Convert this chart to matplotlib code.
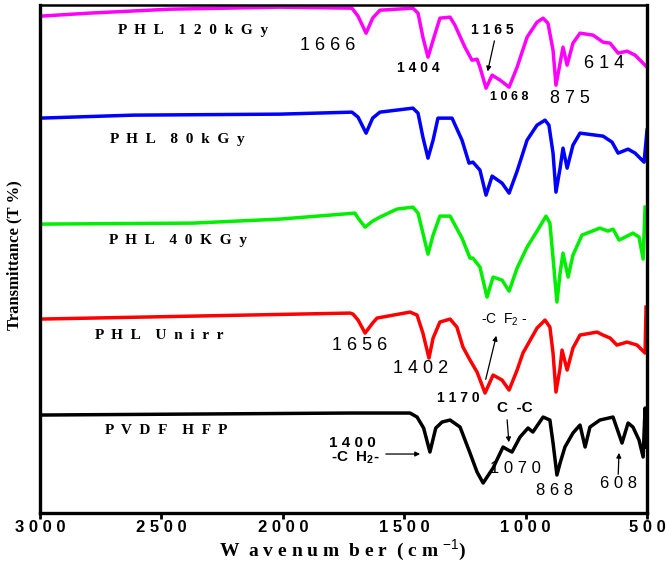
import matplotlib
matplotlib.use('Agg')
from matplotlib import pyplot as plt

# wavenumber (cm-1) / transmittance (offset, a.u.)
wn_120 = [3000, 2800, 2465, 2012, 1715, 1690, 1657, 1630, 1600, 1464, 1443, 1423, 1402, 1381,
          1353, 1311, 1291, 1250, 1221, 1200, 1188, 1163, 1138, 1105, 1068, 1035, 994, 953,
          928, 908, 887, 875, 858, 846, 829, 805, 776, 722, 681, 652, 619, 582, 549, 500]
t_120 = [497, 500, 504, 506, 505, 497, 480, 495, 503, 505, 500, 476, 456, 473,
         495, 496, 488, 466, 453, 454, 446, 425, 438, 433, 426, 446, 476, 491,
         495, 490, 463, 428, 450, 466, 448, 470, 480, 478, 471, 470, 460, 462, 458, 446]

wn_80 = [3000, 2617, 2012, 1715, 1690, 1657, 1630, 1600, 1464, 1443, 1423, 1402, 1381, 1361,
         1303, 1262, 1233, 1217, 1188, 1163, 1138, 1097, 1068, 1035, 994, 953, 920, 904,
         887, 875, 858, 846, 829, 805, 776, 681, 644, 619, 578, 549, 512, 500]
t_80 = [395, 398, 399, 401, 396, 380, 395, 401, 405, 400, 376, 355, 373, 395,
        395, 373, 350, 351, 343, 318, 337, 330, 320, 342, 373, 388, 393, 388,
        360, 321, 345, 365, 345, 368, 380, 377, 371, 360, 364, 360, 351, 383]

wn_40 = [3000, 2370, 2012, 1703, 1690, 1661, 1630, 1600, 1530, 1464, 1443, 1423, 1402, 1381,
         1353, 1311, 1262, 1229, 1217, 1188, 1159, 1134, 1097, 1068, 1035, 994, 953, 916,
         900, 887, 871, 858, 846, 825, 805, 768, 694, 661, 640, 615, 558, 533, 516, 508]
t_40 = [289, 290, 294, 300, 295, 286, 292, 296, 304, 306, 300, 280, 259, 278,
        297, 297, 275, 255, 255, 246, 216, 236, 233, 222, 245, 266, 282, 297,
        290, 255, 211, 240, 260, 236, 258, 278, 285, 282, 284, 273, 280, 276, 254, 306]

wn_un = [3000, 1723, 1711, 1690, 1661, 1630, 1612, 1476, 1447, 1423, 1398, 1381, 1353, 1311,
         1283, 1258, 1229, 1200, 1167, 1134, 1097, 1068, 1035, 1011, 953, 920, 900, 887,
         875, 858, 850, 829, 805, 776, 706, 681, 652, 624, 582, 541, 508, 504]
t_un = [194, 200, 199, 193, 180, 190, 195, 201, 198, 180, 155, 175, 191, 194,
        186, 166, 153, 141, 120, 138, 133, 123, 143, 160, 185, 193, 186, 160,
        121, 145, 163, 143, 165, 178, 181, 178, 175, 168, 171, 168, 160, 206]

wn_pvdf = [3000, 1723, 1476, 1447, 1420, 1394, 1370, 1344, 1311, 1270, 1229, 1200, 1175, 1134,
           1093, 1072, 1056, 1023, 990, 970, 928, 900, 887, 871, 858, 838, 805, 776, 755,
           735, 694, 640, 603, 578, 558, 533, 516, 508, 502]
t_pvdf = [98, 100, 100, 96, 85, 61, 85, 91, 93, 86, 60, 41, 30, 45,
          66, 63, 61, 76, 85, 81, 96, 93, 70, 38, 50, 66, 80, 88, 66,
          86, 93, 96, 70, 90, 86, 73, 56, 105, 66]

names = ['P  H  L    1  2  0  k  G  y', 'P  H  L    8  0  k  G  y', 'P  H  L    4  0  K  G  y',
         'P  H  L    U  n  i  r  r', 'P  V  D  F    H  F  P']
colors = ['#ff00ff', '#0000ff', '#00ee00', '#ff0000', '#000000']
ticks = [3000, 2500, 2000, 1500, 1000, 500]
tick_labels = ['3 0 0 0', '2 5 0 0', '2 0 0 0', '1 5 0 0', '1 0 0 0', '5 0 0']

plt.rcParams['mathtext.fontset'] = 'custom'
plt.rcParams['mathtext.rm'] = 'Liberation Sans'
plt.rcParams['mathtext.bf'] = 'Liberation Sans:bold'

fig = plt.figure(figsize=(6.66, 5.63), dpi=100)
ax = fig.add_axes([0.060, 0.0888, 0.9115, 0.902])

series = [(wn_120, t_120), (wn_80, t_80), (wn_40, t_40), (wn_un, t_un), (wn_pvdf, t_pvdf)]
for (x, y), c in zip(series, colors):
    ax.plot(x, y, color=c, lw=2.5, solid_joinstyle='round')

ax.set_xlim(3000, 500)
ax.set_ylim(0, 508)
ax.set_yticks([])
ax.set_xticks(ticks)
ax.set_xticklabels(tick_labels, fontfamily='Liberation Sans', fontweight='bold', fontsize=12)
ax.tick_params(axis='x', direction='out', length=4, width=2, pad=1)
for lab in ax.get_xticklabels():
    lab.set_x(lab.get_position()[0])
for s in ['left', 'bottom', 'right']:
    ax.spines[s].set_linewidth(2.4)
ax.spines['top'].set_linewidth(1.8)

fig.text(0.515, 0.022, r'W  a v e n u m  b e r  ( c m $^{-1}$)', ha='center', va='center',
         fontfamily='Liberation Serif', fontweight='bold', fontsize=14)
fig.text(0.021, 0.547, 'Transmittance (T %)', rotation=90, ha='center', va='center',
         fontfamily='Liberation Serif', fontweight='bold', fontsize=12)

# sample names
label_pos = [(2370, 483), (2435, 374), (2432, 273), (2507, 178), (2480, 83)]
for n, (x, y) in zip(names, label_pos):
    ax.text(x, y, n, ha='center', va='center', fontfamily='Liberation Serif',
            fontweight='bold', fontsize=11)

# peak labels
sans = dict(fontfamily='Liberation Sans', ha='center', va='center')
ax.text(1814, 468, '1 6 6 6', fontsize=13, **sans)
ax.text(1443, 445, '1 4 0 4', fontsize=10, fontweight='bold', **sans)
ax.text(1138, 483, '1 1 6 5', fontsize=10, fontweight='bold', **sans)
ax.text(1068, 416, '1 0 6 8', fontsize=9, fontweight='bold', **sans)
ax.text(817, 415, '8 7 5', fontsize=13, **sans)
ax.text(677, 450, '6 1 4', fontsize=13, **sans)
ax.text(1682, 168, '1 6 5 6', fontsize=13, **sans)
ax.text(1431, 145, '1 4 0 2', fontsize=13, **sans)
ax.text(1278, 115, '1 1 7 0', fontsize=10, fontweight='bold', **sans)
ax.text(1089, 193, r'-C  F$_2$ -', fontsize=10, **sans)
ax.text(1044, 105, 'C  -C', fontsize=11, fontweight='bold', **sans)
ax.text(1715, 70, '1 4 0 0', fontsize=11, fontweight='bold', **sans)
ax.text(1703, 55, r'-C  H$_\mathbf{2}$-', fontsize=11, fontweight='bold', **sans)
ax.text(1040, 45, '1 0 7 0', fontsize=12, **sans)
ax.text(879, 23, '8 6 8', fontsize=12, **sans)
ax.text(619, 30, '6 0 8', fontsize=12, **sans)

arr = dict(arrowstyle='-|>', color='black', lw=0.9, mutation_scale=7)
ax.annotate('', xy=(1159, 439), xytext=(1126, 475), arrowprops=arr)
ax.annotate('', xy=(1118, 180), xytext=(1167, 131), arrowprops=arr)
ax.annotate('', xy=(1068, 68), xytext=(1077, 96), arrowprops=arr)
ax.annotate('', xy=(1423, 59), xytext=(1587, 59), arrowprops=arr)
ax.annotate('', xy=(615, 63), xytext=(619, 36), arrowprops=arr)

plt.savefig('out.png', dpi=100)
plt.close()
